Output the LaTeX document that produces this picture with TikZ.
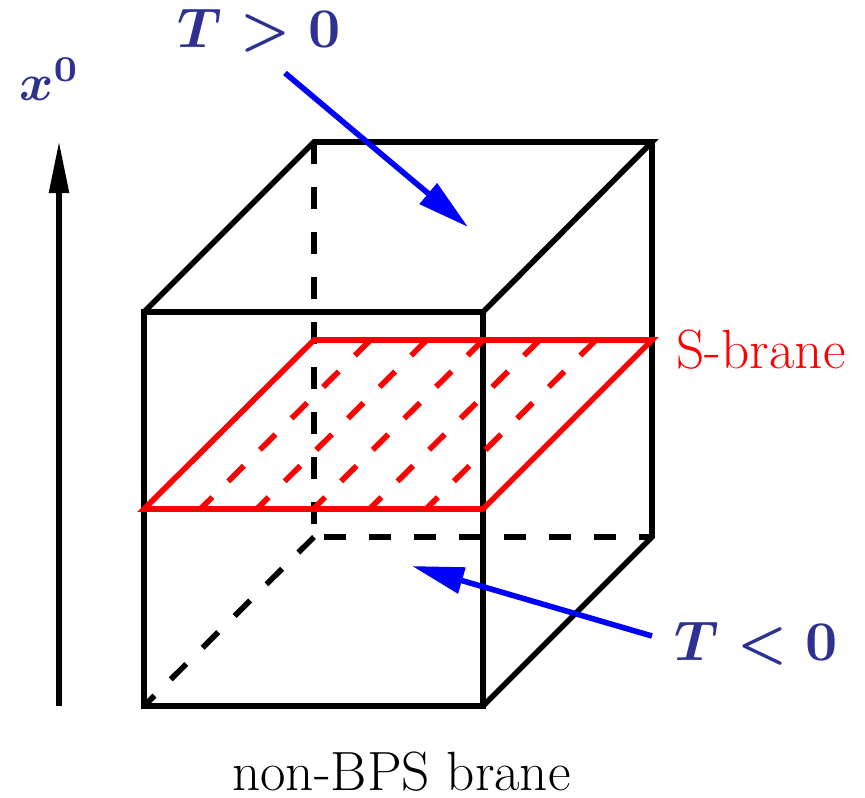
\documentclass[tikz,border=0pt]{standalone}
\usetikzlibrary{arrows.meta}
\definecolor{labelblue}{HTML}{2E3192}
\tikzset{
  edge/.style={line width=2.8pt,black,line join=miter,miter limit=10},
  hidden/.style={edge,dash pattern=on 11pt off 11.5pt},
  brane/.style={line width=2.8pt,red,line join=miter,miter limit=10},
  hatch/.style={line width=2.8pt,red,dash pattern=on 11pt off 11.3pt},
  bluearrow/.style={line width=2.8pt,blue,-{Triangle[length=26pt,width=13pt]}},
  blackarrow/.style={line width=2.8pt,black,-{Triangle[length=26pt,width=9.5pt]}},
  mathlabel/.style={text=labelblue,scale=2.8,anchor=base,inner sep=0pt},
  textlabel/.style={scale=1.6,anchor=base,inner sep=0pt,font=\fontsize{17.28}{20}\selectfont}
}
\begin{document}
\begin{tikzpicture}[x=0.5pt,y=-0.5pt]
\useasboundingbox (0,0) rectangle (865,797);
% cube corners
\coordinate (fa) at (144,312);
\coordinate (fb) at (483,312);
\coordinate (fc) at (483,706);
\coordinate (fd) at (144,706);
\coordinate (ba) at (314,142);
\coordinate (bb) at (652,142);
\coordinate (bc) at (652,537);
\coordinate (bd) at (314,537);
% brane corners
\coordinate (sa) at (144,509);
\coordinate (sb) at (483,509);
\coordinate (sc) at (652,340);
\coordinate (sd) at (314,340);
% hidden edges
\draw[hidden] (ba) -- (bd);
\draw[hidden,dash phase=17.5pt] (bd) -- (bc);
\draw[hidden] (bd) -- (fd);
% visible edges
\draw[edge] (fa) -- (fb) -- (fc) -- (fd) -- cycle;
\draw[edge] (fa) -- (ba) -- (bb) -- (fb);
\draw[edge] (bb) -- (bc) -- (fc);
% hatching of the brane
\foreach \k in {1,...,5}{
  \coordinate (ht\k) at ({314+56.4*\k},340);
  \coordinate (hb\k) at ({144+56.4*\k},509);
  \draw[hatch] (ht\k) -- (hb\k);
}
\draw[brane] (sa) -- (sb) -- (sc) -- (sd) -- cycle;
% arrows
\coordinate (t0) at (59,706);
\coordinate (t1) at (59,141);
\draw[blackarrow] (t0) -- (t1);
\coordinate (p0) at (285,73);
\coordinate (p1) at (468,227);
\draw[bluearrow] (p0) -- (p1);
\coordinate (n0) at (652,636);
\coordinate (n1) at (412,566);
\draw[bluearrow] (n0) -- (n1);
% labels
\node[mathlabel,scale=0.93] (lx) at (49.5,100) {{\boldmath$x^0$}};
\node[mathlabel] (lp) at (259,48) {{\boldmath$T>0$}};
\node[mathlabel] (ln) at (756,660) {{\boldmath$T<0$}};
\node[textlabel,text=red] (ls) at (761,368) {S-brane};
\node[textlabel] (lb) at (401.5,790) {non-BPS brane};
\end{tikzpicture}
\end{document}
